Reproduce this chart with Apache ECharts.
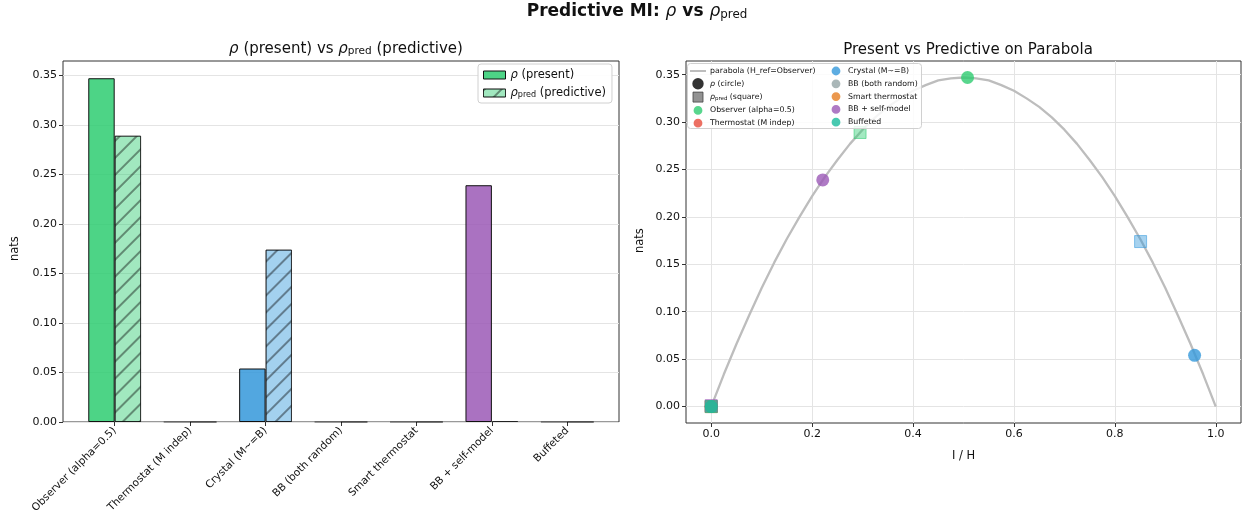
<!DOCTYPE html>
<html><head><meta charset="utf-8">
<script src="https://cdn.jsdelivr.net/npm/echarts@6/dist/echarts.min.js"></script>
<style>html,body{margin:0;padding:0;background:#fff}#c{width:1247px;height:519px}</style>
</head><body><div id="c"></div>
<script>
// ---- data ----
const categories = ['Observer (alpha=0.5)', 'Thermostat (M indep)', 'Crystal (M~=B)', 'BB (both random)', 'Smart thermostat', 'BB + self-model', 'Buffeted'];
const catColors = ['#2ecc71', '#e74c3c', '#3498db', '#95a5a6', '#e67e22', '#9b59b6', '#1abc9c'];
const rhoValues = [0.347, 0, 0.054, 0, 0, 0.239, 0];
const rhoPredValues = [0.289, 0, 0.174, 0, 0, 0.001, 0];
const iOverH = [0.508, 0, 0.958, 0, 0, 0.221, 0];
const iPredOverH = [0.295, 0, 0.851, 0, 0, 0, 0];
const parabolaX = [0, 0.025, 0.05, 0.075, 0.1, 0.125, 0.15, 0.175, 0.2, 0.225, 0.25, 0.275, 0.3, 0.325, 0.35, 0.375, 0.4, 0.425, 0.45, 0.475, 0.5,
                   0.525, 0.55, 0.575, 0.6, 0.625, 0.65, 0.675, 0.7, 0.725, 0.75, 0.775, 0.8, 0.825, 0.85, 0.875, 0.9, 0.925, 0.95, 0.975, 1.0];
const parabolaY = [0, 0.034, 0.066, 0.096, 0.125, 0.152, 0.177, 0.200, 0.222, 0.242, 0.260, 0.277, 0.292, 0.305, 0.316, 0.325, 0.333, 0.339, 0.344, 0.346, 0.347,
                   0.346, 0.344, 0.339, 0.333, 0.325, 0.316, 0.305, 0.292, 0.277, 0.260, 0.242, 0.222, 0.200, 0.177, 0.152, 0.125, 0.096, 0.066, 0.034, 0];
const yTickMax = 0.35, yTickStep = 0.05;
const xTicksRight = {min: 0, max: 1, step: 0.2};

// ---- layout helpers ----
function rgba(hex, a) {
  const n = parseInt(hex.slice(1), 16);
  return 'rgba(' + ((n >> 16) & 255) + ',' + ((n >> 8) & 255) + ',' + (n & 255) + ',' + a + ')';
}
const FONT = 'DejaVu Sans';
const TXT = '#111';
// left panel
const L = {left: 63, top: 61, width: 556, height: 361};
const lYMax = 0.3644;
const lPxPerUnit = L.height / lYMax;
const nCat = categories.length;
const lXMin = -0.685, lXMax = nCat - 1 + 0.685;
const lBand = L.width / (lXMax - lXMin);
const lInnerLeft = L.left + (-0.5 - lXMin) * lBand;
const lInnerWidth = nCat * lBand;
const lTickTop = L.top + L.height - yTickMax * lPxPerUnit;
// right panel
const R = {left: 686, top: 61, width: 555, height: 362};
const rXMin = -0.05, rXMax = 1.05, rYMin = -0.01735, rYMax = 0.3644;
const rPxX = R.width / (rXMax - rXMin), rPxY = R.height / (rYMax - rYMin);
const rZeroY = R.top + rYMax * rPxY;
const rTickTop = rZeroY - yTickMax * rPxY;

const hidden = {show: false};
const axisLabelStyle = {fontFamily: FONT, fontSize: 11, color: TXT};
const nameStyle = {fontFamily: FONT, fontSize: 11.5, color: TXT};
const splitStyle = {show: true, lineStyle: {color: '#e4e4e4', width: 1}};
const tickStyle = {show: true, inside: false, length: 4, lineStyle: {color: '#333'}};

const grids = [
  {left: L.left, top: L.top, width: L.width, height: L.height, show: true, borderColor: '#333', borderWidth: 1, backgroundColor: 'transparent'},
  {left: lInnerLeft, top: L.top, width: lInnerWidth, height: L.height},
  {left: L.left, top: lTickTop, width: L.width, height: L.top + L.height - lTickTop},
  {left: R.left, top: R.top, width: R.width, height: R.height, show: true, borderColor: '#333', borderWidth: 1, backgroundColor: 'transparent'},
  {left: R.left + (0 - rXMin) * rPxX, top: R.top, width: (xTicksRight.max - xTicksRight.min) * rPxX, height: R.height},
  {left: R.left, top: rTickTop, width: R.width, height: rZeroY - rTickTop}
];

const xAxes = [
  {gridIndex: 0, type: 'value', min: lXMin, max: lXMax, show: false},
  {gridIndex: 1, type: 'category', data: categories, boundaryGap: true,
   axisLine: hidden, axisTick: {show: true, alignWithLabel: true, length: 4, lineStyle: {color: '#333'}},
   axisLabel: {rotate: 45, fontFamily: FONT, fontSize: 10.5, color: TXT, margin: 7, interval: 0}, splitLine: hidden},
  {gridIndex: 2, type: 'value', min: 0, max: 1, show: false},
  {gridIndex: 3, type: 'value', min: rXMin, max: rXMax, show: false},
  {gridIndex: 4, type: 'value', min: xTicksRight.min, max: xTicksRight.max, interval: xTicksRight.step,
   axisLine: hidden, axisTick: tickStyle, splitLine: splitStyle,
   axisLabel: Object.assign({margin: 6, formatter: v => v.toFixed(1)}, axisLabelStyle),
   name: 'I / H', nameLocation: 'middle', nameGap: 27, nameTextStyle: nameStyle},
  {gridIndex: 5, type: 'value', min: 0, max: 1, show: false}
];
const yAxes = [
  {gridIndex: 0, type: 'value', min: 0, max: lYMax, show: false},
  {gridIndex: 1, type: 'value', min: 0, max: lYMax, show: false},
  {gridIndex: 2, type: 'value', min: 0, max: yTickMax, interval: yTickStep,
   axisLine: hidden, axisTick: tickStyle, splitLine: splitStyle,
   axisLabel: Object.assign({margin: 6, formatter: v => v.toFixed(2)}, axisLabelStyle),
   name: 'nats', nameLocation: 'middle', nameGap: 42, nameTextStyle: nameStyle},
  {gridIndex: 3, type: 'value', min: rYMin, max: rYMax, show: false},
  {gridIndex: 4, type: 'value', min: 0, max: 1, show: false},
  {gridIndex: 5, type: 'value', min: 0, max: yTickMax, interval: yTickStep,
   axisLine: hidden, axisTick: tickStyle, splitLine: splitStyle,
   axisLabel: Object.assign({margin: 6, formatter: v => v.toFixed(2)}, axisLabelStyle),
   name: 'nats', nameLocation: 'middle', nameGap: 40, nameTextStyle: nameStyle}
];

const hatch = {symbol: 'rect', symbolSize: 1, dashArrayX: [1, 0], dashArrayY: [1.2, 10], rotation: -Math.PI / 4, color: 'rgba(0,0,0,0.4)'};

const series = [
  {type: 'bar', name: 'rho', xAxisIndex: 1, yAxisIndex: 1, barWidth: 0.35 * lBand, barGap: '0%',
   itemStyle: {color: rgba(catColors[0], 0.85), borderColor: '#111', borderWidth: 1},
   data: rhoValues.map((v, i) => ({value: v, itemStyle: {color: rgba(catColors[i], 0.85), borderColor: v > 0 ? '#111' : 'rgba(0,0,0,0.35)'}}))},
  {type: 'bar', name: 'rho_pred', xAxisIndex: 1, yAxisIndex: 1, barWidth: 0.35 * lBand, barGap: '0%',
   itemStyle: {color: rgba(catColors[0], 0.45), borderColor: 'rgba(0,0,0,0.55)', borderWidth: 1, decal: hatch},
   data: rhoPredValues.map((v, i) => ({value: v, itemStyle: {color: rgba(catColors[i], 0.45), borderColor: v > 0.01 ? 'rgba(0,0,0,0.55)' : 'rgba(0,0,0,0.3)', decal: hatch}}))},
  {type: 'line', name: 'parabola (H_ref=Observer)', xAxisIndex: 3, yAxisIndex: 3, symbol: 'none', smooth: false,
   lineStyle: {color: '#bdbdbd', width: 2.3}, itemStyle: {color: '#bdbdbd'},
   data: parabolaX.map((x, i) => [x, parabolaY[i]])},
  {type: 'scatter', name: 'rho (circle)', xAxisIndex: 3, yAxisIndex: 3, data: [], itemStyle: {color: '#000'}},
  {type: 'scatter', name: 'rho_pred (square)', xAxisIndex: 3, yAxisIndex: 3, data: [], itemStyle: {color: '#777', borderColor: '#444', borderWidth: 1}}
];
categories.forEach((c, i) => {
  series.push({
    type: 'scatter', name: c, xAxisIndex: 3, yAxisIndex: 3, z: 3 + i * 0.01,
    itemStyle: {color: catColors[i]},
    data: [
      {value: [iOverH[i], rhoValues[i]], symbol: 'circle', symbolSize: 13, itemStyle: {color: catColors[i]}},
      {value: [iPredOverH[i], rhoPredValues[i]], symbol: 'rect', symbolSize: 12,
       itemStyle: {color: rgba(catColors[i], 0.55), borderColor: rgba(catColors[i], 0.7), borderWidth: 1}}
    ]
  });
});

function richFor(size, weight) {
  const w = weight || 'normal';
  return {
    i: {fontFamily: FONT, fontStyle: 'italic', fontWeight: 'normal', fontSize: size, color: TXT},
    s: {fontFamily: FONT, fontSize: size * 0.7, fontWeight: 'normal', color: TXT, padding: [size * 0.35, 0, 0, 0]},
    n: {fontFamily: FONT, fontSize: size, fontWeight: w, color: TXT}
  };
}

// legend icons: bounding corner points fix the scale inside the 12x12 icon box
const smallCircle = 'path://M0,0L0.01,0L0,0.01Z M12,12L11.99,12L12,11.99Z M6,1.6A4.4,4.4 0 1 1 5.99,1.6Z';
const bigCircle = 'path://M0,0L0.01,0L0,0.01Z M12,12L11.99,12L12,11.99Z M6,0.3A5.7,5.7 0 1 1 5.99,0.3Z';
const squareIcon = 'path://M0,0L0.01,0L0,0.01Z M12,12L11.99,12L12,11.99Z M1,1L11,1L11,11L1,11Z';
const lineIcon = 'path://M0,0L0.01,0L0,0.01Z M12,12L11.99,12L12,11.99Z M-2,5L14,5L14,7L-2,7Z';
const option = {
  animation: false,
  backgroundColor: '#fff',
  textStyle: {fontFamily: FONT},
  title: [
    {text: '{n|Predictive MI: }{i|ρ}{n| vs }{i|ρ}{s|pred}', left: 632, top: -2, textAlign: 'center',
     textStyle: {fontWeight: 'normal', rich: richFor(17, 'bold')}},
    {text: '{i|ρ}{n| (present) vs }{i|ρ}{s|pred}{n| (predictive)}', left: 341, top: 36, textAlign: 'center',
     textStyle: {fontWeight: 'normal', rich: richFor(15)}},
    {text: 'Present vs Predictive on Parabola', left: 963, top: 38, textAlign: 'center',
     textStyle: {fontFamily: FONT, fontSize: 15, fontWeight: 'normal', color: TXT}}
  ],
  graphic: [
    {type: 'rect', z: 10, shape: {x: 687.5, y: 63.5, width: 234, height: 65, r: 3},
     style: {fill: 'rgba(255,255,255,0.85)', stroke: '#d0d0d0', lineWidth: 1}}
  ],
  legend: [
    {orient: 'vertical', left: 478, top: 64, padding: [5, 6, 4, 5], itemGap: 6, itemWidth: 22, itemHeight: 8, z: 12,
     backgroundColor: 'rgba(255,255,255,0.9)', borderColor: '#d0d0d0', borderWidth: 1, borderRadius: 3,
     itemStyle: {borderWidth: 1},
     data: [{name: 'rho', icon: 'rect'}, {name: 'rho_pred', icon: 'rect'}],
     formatter: n => n === 'rho' ? '{i|ρ}{n| (present)}' : '{i|ρ}{s|pred}{n| (predictive)}',
     textStyle: {fontFamily: FONT, fontSize: 11.5, color: TXT, rich: richFor(11.5)}},
    {orient: 'vertical', left: 689, top: 64, padding: 1, itemGap: 0.8, itemWidth: 20, itemHeight: 12, z: 12,
     itemStyle: {borderWidth: 0},
     data: [
       {name: 'parabola (H_ref=Observer)', icon: lineIcon},
       {name: 'rho (circle)', icon: bigCircle},
       {name: 'rho_pred (square)', icon: squareIcon, itemStyle: {borderWidth: 1, borderColor: '#444'}},
       {name: categories[0], icon: smallCircle},
       {name: categories[1], icon: smallCircle}
     ],
     formatter: n => n === 'rho (circle)' ? '{i|ρ}{n| (circle)}' : n === 'rho_pred (square)' ? '{i|ρ}{s|pred}{n| (square)}' : n,
     textStyle: {fontFamily: FONT, fontSize: 7.8, color: TXT, padding: [0, 0, 0, -3], rich: richFor(7.8)}},
    {orient: 'vertical', left: 829, top: 64, padding: 1, itemGap: 0.8, itemWidth: 20, itemHeight: 12, z: 12,
     itemStyle: {borderWidth: 0},
     data: categories.slice(2).map(n => ({name: n, icon: smallCircle})),
     textStyle: {fontFamily: FONT, fontSize: 7.8, color: TXT, padding: [0, 0, 0, -3]}}
  ],
  grid: grids,
  xAxis: xAxes,
  yAxis: yAxes,
  series: series
};
const chart = echarts.init(document.getElementById('c'), null, {renderer: 'canvas'});
chart.setOption(option);
</script>
</body></html>
